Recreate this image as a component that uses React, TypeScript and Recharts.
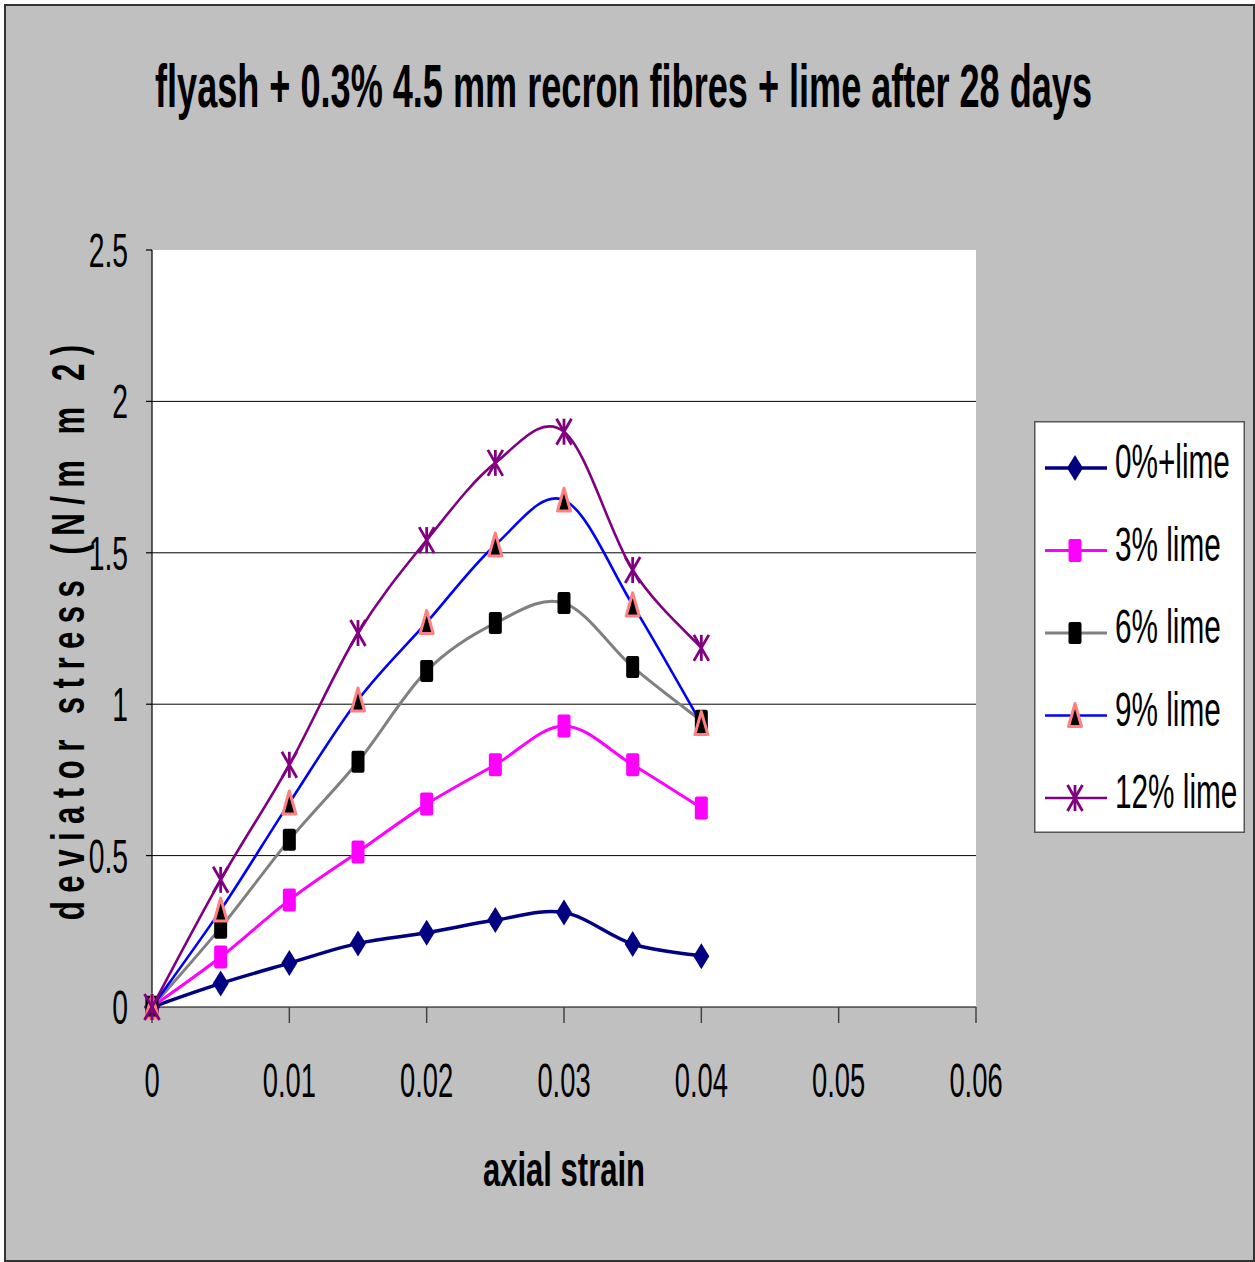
import React from 'react';
import { LineChart, Line, XAxis, YAxis, CartesianGrid, Legend } from 'recharts';

// Axial strain readings (x) and deviator stress per lime content (N/mm2)
const strain = [0, 0.005, 0.01, 0.015, 0.02, 0.025, 0.03, 0.035, 0.04];
const lime0 = [0, 0.078, 0.145, 0.21, 0.245, 0.287, 0.312, 0.208, 0.168];
const lime3 = [0, 0.165, 0.353, 0.512, 0.67, 0.8, 0.928, 0.8, 0.657];
const lime6 = [0, 0.262, 0.552, 0.81, 1.11, 1.268, 1.334, 1.123, 0.945];
const lime9 = [0, 0.32, 0.674, 1.014, 1.27, 1.526, 1.674, 1.328, 0.936];
const lime12 = [0, 0.42, 0.8, 1.235, 1.542, 1.797, 1.9, 1.443, 1.186];

const xTicks = [0, 0.01, 0.02, 0.03, 0.04, 0.05, 0.06];
const yTicks = [0, 0.5, 1, 1.5, 2, 2.5];
const gridValues = [0.5, 1, 1.5, 2];

const series = [
  { key: 'lime0', name: '0%+lime', values: lime0, color: '#000080', width: 3.5, marker: 'diamond' },
  { key: 'lime3', name: '3% lime', values: lime3, color: '#ff00ff', width: 3, marker: 'pinkSquare' },
  { key: 'lime6', name: '6% lime', values: lime6, color: '#808080', width: 3, marker: 'blackSquare' },
  { key: 'lime9', name: '9% lime', values: lime9, color: '#0000ff', width: 2.6, marker: 'triangle' },
  { key: 'lime12', name: '12% lime', values: lime12, color: '#800080', width: 2.6, marker: 'star' },
];

const rows = strain.map((s, i) => {
  const r: Record<string, number> = { strain: s };
  series.forEach((sr) => { r[sr.key] = sr.values[i]; });
  return r;
});

const FONT = '"Liberation Sans", Arial, sans-serif';

// Smoothed line: Bezier segments with control points at 1/6 of the neighbour span
const smoothCurve = (context: any) => {
  let pts: [number, number][] = [];
  return {
    areaStart() {},
    areaEnd() {},
    lineStart() { pts = []; },
    point(x: number, y: number) { pts.push([+x, +y]); },
    lineEnd() {
      const n = pts.length;
      if (!n) return;
      context.moveTo(pts[0][0], pts[0][1]);
      for (let i = 0; i < n - 1; i++) {
        const p0 = pts[Math.max(i - 1, 0)];
        const p1 = pts[i];
        const p2 = pts[i + 1];
        const p3 = pts[Math.min(i + 2, n - 1)];
        context.bezierCurveTo(
          p1[0] + (p2[0] - p0[0]) / 6, p1[1] + (p2[1] - p0[1]) / 6,
          p2[0] - (p3[0] - p1[0]) / 6, p2[1] - (p3[1] - p1[1]) / 6,
          p2[0], p2[1],
        );
      }
    },
  };
};

function Marker({ kind, cx, cy, color }: { kind: string; cx: number; cy: number; color: string }) {
  if (cx == null || cy == null || isNaN(cx) || isNaN(cy)) return null;
  switch (kind) {
    case 'diamond':
      return <polygon points={`${cx},${cy - 13} ${cx + 8},${cy} ${cx},${cy + 13} ${cx - 8},${cy}`} fill={color} />;
    case 'pinkSquare':
      return <rect x={cx - 6.5} y={cy - 11.5} width={13} height={23} rx={2} fill="#ff00ff" />;
    case 'blackSquare':
      return <rect x={cx - 6.5} y={cy - 11} width={13} height={22} rx={2} fill="#000000" />;
    case 'triangle':
      return (
        <polygon
          points={`${cx},${cy - 12} ${cx + 6.5},${cy + 11} ${cx - 6.5},${cy + 11}`}
          fill="#000000"
          stroke="#ff8080"
          strokeWidth={3}
          strokeLinejoin="round"
        />
      );
    case 'star':
      return (
        <g stroke={color} strokeWidth={2.8} fill="none">
          <line x1={cx - 7.5} y1={cy - 13} x2={cx + 7.5} y2={cy + 13} />
          <line x1={cx + 7.5} y1={cy - 13} x2={cx - 7.5} y2={cy + 13} />
          <line x1={cx} y1={cy - 13} x2={cx} y2={cy + 13} />
        </g>
      );
    default:
      return null;
  }
}

const makeDot = (kind: string, color: string) => (p: any) => (
  <g key={`${kind}-${p.index}`}>
    <Marker kind={kind} cx={p.cx} cy={p.cy} color={color} />
  </g>
);

const XTick = (p: any) => (
  <text
    transform={`translate(${p.x} ${p.y + 74}) scale(0.57 1)`}
    textAnchor="middle"
    fontFamily={FONT}
    fontSize={48}
    fill="#000"
  >
    {p.payload.value}
  </text>
);

const YTick = (p: any) => (
  <text
    transform={`translate(${p.x} ${p.y + 17}) scale(0.59 1)`}
    textAnchor="end"
    fontFamily={FONT}
    fontSize={48}
    fill="#000"
  >
    {p.payload.value}
  </text>
);

const LegendBox = (props: any) => {
  const payload = props.payload || [];
  return (
    <svg width={211} height={412} style={{ display: 'block' }}>
      <rect x={0.75} y={0.75} width={209.5} height={410.5} fill="#ffffff" stroke="#555" strokeWidth={1.5} />
      {series.map((sr, i) => {
        const entry = payload.find((e: any) => e.dataKey === sr.key);
        const y = 47 + i * 82.5;
        return (
          <g key={sr.key}>
            <line x1={11} y1={y} x2={73} y2={y} stroke={sr.color} strokeWidth={sr.width} />
            <Marker kind={sr.marker} cx={41} cy={y} color={sr.color} />
            <text
              transform={`translate(81 ${y + 10}) scale(0.62 1)`}
              fontFamily={FONT}
              fontSize={48}
              fill="#000"
            >
              {entry ? entry.value : sr.name}
            </text>
          </g>
        );
      })}
    </svg>
  );
};

export default function App() {
  return (
    <div style={{ position: 'absolute', left: 0, top: 0, width: 1255, height: 1262, background: '#ffffff' }}>
      <div
        style={{
          position: 'absolute',
          left: 4,
          top: 4,
          width: 1251,
          height: 1258,
          boxSizing: 'border-box',
          background: '#c0c0c0',
          border: '2px solid #333',
        }}
      />
      <div style={{ position: 'absolute', left: 0, top: 0 }}>
        <LineChart
          width={1255}
          height={1262}
          data={rows}
          margin={{ top: 250, right: 279, bottom: 195, left: 92 }}
        >
          <CartesianGrid
            vertical={false}
            horizontalValues={gridValues}
            stroke="#000"
            strokeWidth={1}
            fill="#ffffff"
            fillOpacity={1}
          />
          <XAxis
            dataKey="strain"
            type="number"
            domain={[0, 0.06]}
            ticks={xTicks}
            interval={0}
            height={60}
            tickSize={16}
            tickMargin={0}
            axisLine={{ stroke: '#000', strokeWidth: 1.2 }}
            tickLine={{ stroke: '#444', strokeWidth: 1.5 }}
            tick={<XTick />}
          />
          <YAxis
            type="number"
            domain={[0, 2.5]}
            ticks={yTicks}
            interval={0}
            width={60}
            tickSize={6}
            tickMargin={18}
            axisLine={{ stroke: '#000', strokeWidth: 1.2 }}
            tickLine={{ stroke: '#000', strokeWidth: 1.2 }}
            tick={<YTick />}
          />
          <Legend
            layout="vertical"
            verticalAlign="middle"
            align="center"
            content={<LegendBox />}
            wrapperStyle={{ left: 1034, top: 421, width: 211, height: 412 }}
          />
          {series.map((sr) => (
            <Line
              key={sr.key}
              dataKey={sr.key}
              name={sr.name}
              type={smoothCurve as any}
              stroke={sr.color}
              strokeWidth={sr.width}
              dot={makeDot(sr.marker, sr.color)}
              activeDot={false}
              isAnimationActive={false}
            />
          ))}
        </LineChart>
      </div>
      <svg
        width={1255}
        height={1262}
        style={{ position: 'absolute', left: 0, top: 0, pointerEvents: 'none' }}
      >
        <text
          x={623.5}
          y={107}
          textAnchor="middle"
          fontFamily={FONT}
          fontWeight="bold"
          fontSize={61}
          textLength={937}
          lengthAdjust="spacingAndGlyphs"
          fill="#000"
        >
          flyash + 0.3% 4.5 mm recron fibres + lime after 28 days
        </text>
        <text
          x={564}
          y={1186}
          textAnchor="middle"
          fontFamily={FONT}
          fontWeight="bold"
          fontSize={48}
          textLength={162}
          lengthAdjust="spacingAndGlyphs"
          fill="#000"
        >
          axial strain
        </text>
        <g transform="translate(84 632.5) rotate(-90) scale(0.68 1)">
          <text
            x={0}
            y={0}
            textAnchor="middle"
            fontFamily={FONT}
            fontWeight="bold"
            fontSize={46}
            textLength={846}
            lengthAdjust="spacing"
            fill="#000"
          >
            deviator stress (N/m m 2)
          </text>
        </g>
      </svg>
    </div>
  );
}
